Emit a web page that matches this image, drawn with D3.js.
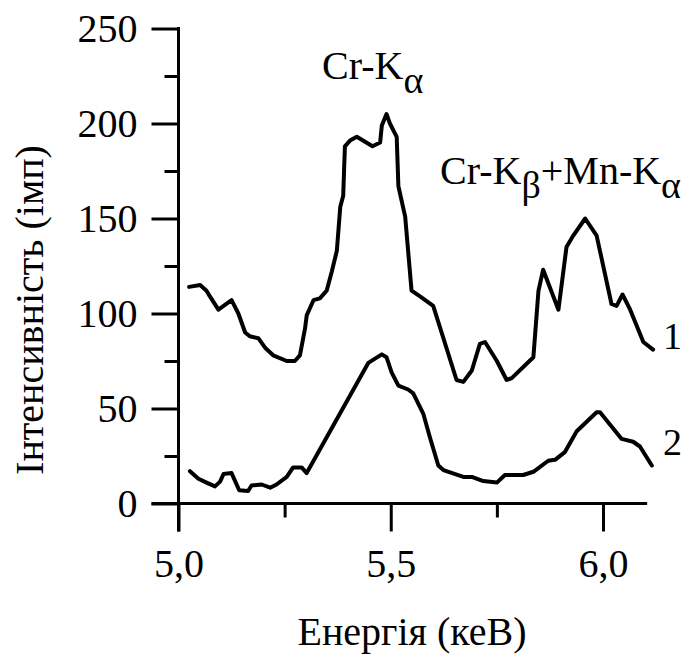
<!DOCTYPE html>
<html><head><meta charset="utf-8"><script src="https://cdn.jsdelivr.net/npm/d3@7"></script></head>
<body style="margin:0">
<script>
// ---- data ----
const energy1 = [5.025,5.051,5.066,5.074,5.094,5.125,5.141,5.157,5.168,5.188,5.204,5.223,5.255,5.274,5.286,5.298,5.302,5.318,5.333,5.349,5.361,5.373,5.381,5.388,5.392,5.404,5.42,5.457,5.475,5.479,5.49,5.498,5.514,5.518,5.534,5.549,5.569,5.6,5.655,5.671,5.691,5.71,5.722,5.75,5.773,5.785,5.836,5.848,5.859,5.895,5.914,5.93,5.958,5.985,6.02,6.032,6.046,6.064,6.095,6.118];
const counts1 = [114,115,112,109,102,107,100,90,88,87,82,78,75,75,78,92,99,107,108,112,122,133,156,162,188,191,193,188,190,199,205,200,193,167,151,112,109,104,65,64,70,84,85,75,65,66,77,112,123,102,135,141,150,141,105,104,110,102,85,81];
const energy2 = [5.027,5.047,5.066,5.086,5.098,5.106,5.125,5.143,5.164,5.172,5.196,5.216,5.231,5.255,5.27,5.29,5.302,5.447,5.479,5.49,5.502,5.518,5.541,5.553,5.577,5.592,5.612,5.624,5.671,5.691,5.718,5.75,5.769,5.812,5.836,5.871,5.887,5.91,5.938,5.985,5.993,6.044,6.071,6.087,6.115];
const counts2 = [17,13,11,9,11.5,15.5,16,7,6.6,9.5,10,8.3,10,14,19,19,16,74,78.5,77,69,62,60,58,47,35,20,17.6,14,14,11.8,11,15,15,16.7,22.5,23,27,38,48,48,34,32.5,30,20];
const xMajorTicks = [5.0, 5.5, 6.0];
const xMinorTicks = [5.25, 5.75];
const yMajorTicks = [0, 50, 100, 150, 200, 250];
const yMinorTicks = [25, 75, 125, 175, 225];
const seriesLabels = ["1", "2"];

// ---- layout ----
const W = 690, H = 659;
const FS = 40;
const FONT = `Times, "Liberation Serif", Tinos, FreeSerif, monospace`;
const svg = d3.select("body").append("svg").attr("width", W).attr("height", H);
svg.append("style").text(`text, tspan { font-family: ${FONT} !important; }`);
svg.append("rect").attr("width", W).attr("height", H).attr("fill", "#fff");

const x = d3.scaleLinear().domain([5.0, 6.0]).range([178.5, 603]);
const y = d3.scaleLinear().domain([0, 250]).range([503.5, 28.5]);

const fmtX = d => d3.format(".1f")(d).replace(".", ",");

function serif(sel, fs) {
  return sel.style("font-family", FONT, "important")
    .attr("font-size", fs)
    .attr("fill", "#000");
}

// axes
const majLen = 27, minLen = 14, axW = 3;
const xAxisMajor = d3.axisBottom(x).tickValues(xMajorTicks).tickSize(28).tickSizeOuter(0).tickPadding(17).tickFormat(fmtX);
const xAxisMinor = d3.axisBottom(x).tickValues(xMinorTicks).tickSize(minLen).tickSizeOuter(0).tickFormat("");
const yAxisMajor = d3.axisLeft(y).tickValues(yMajorTicks).tickSize(majLen).tickSizeOuter(0).tickPadding(14).tickFormat(d3.format("d"));
const yAxisMinor = d3.axisLeft(y).tickValues(yMinorTicks).tickSize(minLen).tickSizeOuter(0).tickFormat("");

function styleAxis(g) {
  g.attr("font-family", null).attr("font-size", FS);
  g.select(".domain").remove();
  g.selectAll(".tick line").attr("stroke", "#000").attr("stroke-width", axW);
  serif(g.selectAll(".tick text"), FS);
}

svg.append("g").attr("transform", `translate(0,${y(0)})`).call(xAxisMajor).call(styleAxis);
svg.append("g").attr("transform", `translate(0,${y(0)})`).call(xAxisMinor).call(styleAxis);
svg.append("g").attr("transform", `translate(${x(5.0)},0)`).call(yAxisMajor).call(styleAxis);
svg.append("g").attr("transform", `translate(${x(5.0)},0)`).call(yAxisMinor).call(styleAxis);

// axis lines
svg.append("line")
  .attr("x1", x(5.0) - majLen).attr("x2", x(6.104))
  .attr("y1", y(0)).attr("y2", y(0))
  .attr("stroke", "#000").attr("stroke-width", axW);
svg.append("line")
  .attr("x1", x(5.0)).attr("x2", x(5.0))
  .attr("y1", y(250) - 1.5).attr("y2", y(0) + 28)
  .attr("stroke", "#000").attr("stroke-width", axW);

// curves
const line = d3.line().x(d => x(d[0])).y(d => y(d[1])).curve(d3.curveLinear);
const s1 = energy1.map((e, i) => [e, counts1[i]]);
const s2 = energy2.map((e, i) => [e, counts2[i]]);
[s1, s2].forEach(s => {
  svg.append("path").datum(s).attr("d", line)
    .attr("fill", "none").attr("stroke", "#000").attr("stroke-width", 4)
    .attr("stroke-linejoin", "round").attr("stroke-linecap", "round");
});

// series labels
serif(svg.append("text"), 38).attr("x", 663).attr("y", 349).text(seriesLabels[0]);
serif(svg.append("text"), 38).attr("x", 663).attr("y", 455).text(seriesLabels[1]);

// peak labels
const p1 = serif(svg.append("text"), FS).attr("x", 322).attr("y", 79);
serif(p1.append("tspan"), FS).text("Cr-K");
serif(p1.append("tspan"), 38).attr("dy", 14).text("α");

const p2 = serif(svg.append("text"), FS).attr("x", 440).attr("y", 184);
serif(p2.append("tspan"), FS).text("Cr-K");
serif(p2.append("tspan"), 38).attr("dy", 14).text("β");
serif(p2.append("tspan"), FS).attr("dy", -14).text("+Mn-K");
serif(p2.append("tspan"), 38).attr("dy", 14).text("α");

// axis titles
serif(svg.append("text"), FS).attr("x", 412).attr("y", 645).attr("text-anchor", "middle")
  .text("Енергія (кеВ)");
serif(svg.append("text"), FS).attr("transform", `translate(43,310) rotate(-90)`)
  .attr("text-anchor", "middle").text("Інтенсивність (імп)");
</script>
</body></html>
